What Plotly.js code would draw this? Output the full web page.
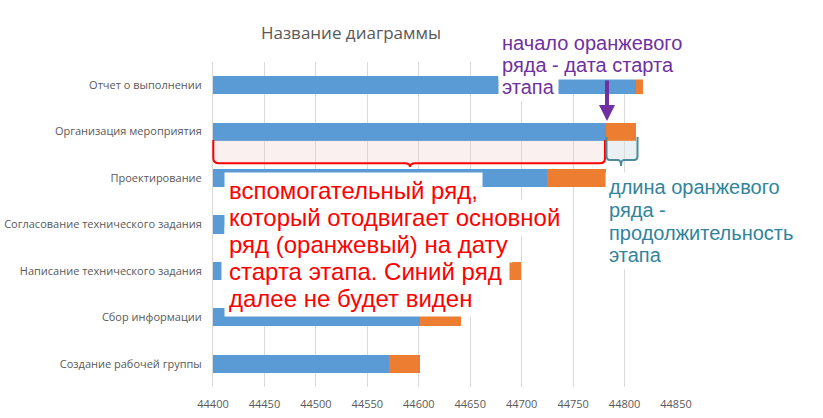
<!DOCTYPE html>
<html>
<head>
<meta charset="utf-8">
<script src="https://cdn.plot.ly/plotly-3.0.1.min.js"></script>
<style>html,body{margin:0;padding:0;background:#fff;}#chart{width:823px;height:418px;}</style>
</head>
<body>
<div id="chart"></div>
<script>
// Data (bottom to top, as in Excel)
var categories = ['Создание рабочей группы', 'Сбор информации', 'Написание технического задания',
  'Согласование технического задания', 'Проектирование', 'Организация мероприятия', 'Отчет о выполнении'];
var startDates = [44571, 44601, 44688, 44699, 44725, 44782, 44811];
var durations = [30, 40, 11, 26, 57, 29, 7];
var xTickValues = [44400, 44450, 44500, 44550, 44600, 44650, 44700, 44750, 44800, 44850];

var chartTitle = 'Название диаграммы';
var redLines = ['вспомогательный ряд,', 'который отодвигает основной', 'ряд (оранжевый) на дату', 'старта этапа. Синий ряд', 'далее не будет виден'];
var purpleLines = ['начало оранжевого', 'ряда - дата старта', 'этапа'];
var tealLines = ['длина оранжевого', 'ряда -', 'продолжительность', 'этапа'];

// plot-area geometry helpers (pixel -> paper)
var L = 213, R = 147, T = 62, B = 31;
var W = 823 - L - R, H = 418 - T - B;
function px(x) { return (x - L) / W; }
function py(y) { return (418 - B - y) / H; }

var FONT = '"Liberation Sans", Arial, sans-serif';
var traces = [
  { type: 'bar', orientation: 'h', y: categories, x: startDates,
    marker: { color: '#5B9BD5' }, hoverinfo: 'x+y', name: 'Старт' },
  { type: 'bar', orientation: 'h', y: categories, x: durations,
    marker: { color: '#ED7D31' }, hoverinfo: 'x+y', name: 'Длительность' }
];

var bgAnn = [], txtAnn = [];
function addLines(lines, ys, xLeft, size, color, pads) {
  lines.forEach(function (t, i) {
    var pad = pads[i];
    var base = { xref: 'paper', yref: 'paper', x: px(xLeft - (pad - pads[0])), y: py(ys[i]), xanchor: 'left', yanchor: 'middle',
      text: t, showarrow: false, align: 'left', borderpad: pad };
    var bg = Object.assign({}, base, { bgcolor: '#ffffff', font: { family: FONT, size: size, color: 'rgba(0,0,0,0)' } });
    var tx = Object.assign({}, base, { font: { family: FONT, size: size, color: color } });
    bgAnn.push(bg); txtAnn.push(tx);
  });
}
addLines(redLines, [190, 217, 244, 271, 298], 224, 24, '#FF0000', [4, 4, 4, 7, 4]);
addLines(purpleLines, [43, 65, 87], 498, 20, '#7030A0', [3, 3, 3]);
addLines(tealLines, [187, 210, 233, 255], 605, 20, '#31849B', [3, 3, 3, 3]);

var annotations = bgAnn.concat(txtAnn);
// purple arrow
annotations.push({ xref: 'paper', yref: 'paper', x: px(607), y: py(121), ax: 0, ay: -42,
  text: '', showarrow: true, arrowhead: 2, arrowsize: 0.8, arrowwidth: 4, arrowcolor: '#7030A0' });

function P(x, y) { return px(x).toFixed(5) + ',' + py(y).toFixed(5); }
var redBrace = 'M' + P(213.3, 140) + ' L' + P(213.3, 158) + ' Q' + P(213.3, 163.3) + ' ' + P(219, 163.3) +
  ' L' + P(405, 163.3) + ' Q' + P(410, 163.3) + ' ' + P(410, 167) + ' Q' + P(410, 163.3) + ' ' + P(415, 163.3) +
  ' L' + P(600, 163.3) + ' Q' + P(605, 163.3) + ' ' + P(605, 158) + ' L' + P(605, 140);
var tealBrace = 'M' + P(606.5, 137) + ' L' + P(606.5, 156) + ' Q' + P(606.5, 160) + ' ' + P(610, 160) +
  ' L' + P(618, 160) + ' Q' + P(621, 160) + ' ' + P(621, 166) + ' Q' + P(621, 160) + ' ' + P(624, 160) +
  ' L' + P(634, 160) + ' Q' + P(637.5, 160) + ' ' + P(637.5, 156) + ' L' + P(637.5, 137);

var shapes = [
  { type: 'rect', xref: 'paper', yref: 'paper', x0: px(213.3), x1: px(605), y0: py(163), y1: py(140.5),
    line: { width: 0 }, fillcolor: 'rgba(240,205,205,0.3)', layer: 'above' },
  { type: 'rect', xref: 'paper', yref: 'paper', x0: px(606.5), x1: px(637.5), y0: py(160), y1: py(140.5),
    line: { width: 0 }, fillcolor: 'rgba(215,228,232,0.5)', layer: 'above' },
  { type: 'path', xref: 'paper', yref: 'paper', path: redBrace, line: { color: '#FF0000', width: 2 }, layer: 'above' },
  { type: 'path', xref: 'paper', yref: 'paper', path: tealBrace, line: { color: '#4A8C9C', width: 2 }, layer: 'above' }
];

var layout = {
  width: 823, height: 418,
  margin: { l: L, r: R, t: T, b: B, pad: 0 },
  paper_bgcolor: '#ffffff', plot_bgcolor: '#ffffff',
  showlegend: false,
  barmode: 'stack', bargap: 0.61,
  title: { text: chartTitle, x: 351 / 823, xanchor: 'center', y: 1 - 33 / 418, yanchor: 'middle',
    font: { family: '"Open Sans", sans-serif', size: 17, color: '#595959' } },
  xaxis: { range: [44400, 44850], tickvals: xTickValues, ticktext: xTickValues.map(String),
    showgrid: true, gridcolor: '#D9D9D9', gridwidth: 1, zeroline: false, showline: false,
    ticks: '', ticklabelstandoff: 9,
    tickfont: { family: '"Open Sans", sans-serif', size: 11, color: '#595959' } },
  yaxis: { type: 'category', categoryorder: 'array', categoryarray: categories,
    range: [-0.5, 6.5], showgrid: false, zeroline: false, showline: true, linecolor: '#D9D9D9', linewidth: 1,
    ticks: '', ticklabelstandoff: 8,
    tickfont: { family: '"Open Sans", sans-serif', size: 11, color: '#595959' } },
  annotations: annotations,
  shapes: shapes
};

Plotly.newPlot('chart', traces, layout, { displayModeBar: false, staticPlot: true });
</script>
</body>
</html>
